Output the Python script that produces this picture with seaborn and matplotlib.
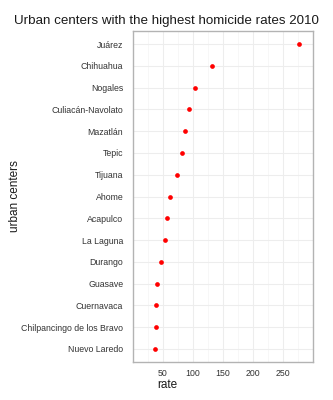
import matplotlib
matplotlib.use("Agg")
import matplotlib.pyplot as plt
import seaborn as sns
import pandas as pd
from matplotlib.ticker import FixedLocator

# Homicide rates per urban center, 2010
centers = ["Juárez", "Chihuahua", "Nogales", "Culiacán-Navolato", "Mazatlán",
           "Tepic", "Tijuana", "Ahome", "Acapulco", "La Laguna", "Durango",
           "Guasave", "Cuernavaca", "Chilpancingo de los Bravo", "Nuevo Laredo"]
rates = [277, 132, 103, 94, 87, 82, 74, 61, 57, 54, 46, 40, 38, 38, 37]
x_ticks = [50, 100, 150, 200, 250]

df = pd.DataFrame({"urban centers": centers, "rate": rates})

sns.set_style("white")
plt.rcParams["font.family"] = ["Liberation Sans", "DejaVu Sans"]

fig = plt.figure(figsize=(3.33, 4.0), dpi=100)
ax = fig.add_axes([133 / 333, 38 / 400, 180 / 333, 331 / 400])

sns.stripplot(data=df, x="rate", y="urban centers", order=centers,
              jitter=False, color="#FF0000", size=3.4, linewidth=0, ax=ax,
              zorder=3)

ax.set_xlim(0, 300)
ax.set_ylim(len(centers) - 1 + 0.6, -0.6)
ax.xaxis.set_major_locator(FixedLocator(x_ticks))
ax.xaxis.set_minor_locator(FixedLocator([25, 75, 125, 175, 225, 275]))

ax.grid(True, which="major", color="#EDEDED", linewidth=0.8, zorder=0)
ax.grid(True, which="minor", axis="x", color="#F6F6F6", linewidth=0.6, zorder=0)
ax.set_axisbelow(True)

for s in ax.spines.values():
    s.set_visible(True)
    s.set_color("#B3B3B3")
    s.set_linewidth(1.0)

ax.tick_params(axis="both", which="major", length=3, width=0.8, color="#B3B3B3",
               labelsize=6.3, labelcolor="#333333")
ax.tick_params(axis="y", pad=4)
ax.tick_params(axis="x", pad=2)
ax.tick_params(axis="x", which="minor", length=0)

ax.set_xlabel("rate", fontsize=8.5, color="#1A1A1A")
ax.xaxis.set_label_coords((167 - 133) / 180, -0.05)
ax.set_ylabel("urban centers", fontsize=8.5, color="#1A1A1A")
ax.yaxis.set_label_coords((21 - 133) / 180, 0.5)

fig.suptitle("Urban centers with the highest homicide rates 2010",
             fontsize=9.6, color="#1A1A1A", x=0.5, y=0.962)

fig.savefig("out.png", dpi=100)
